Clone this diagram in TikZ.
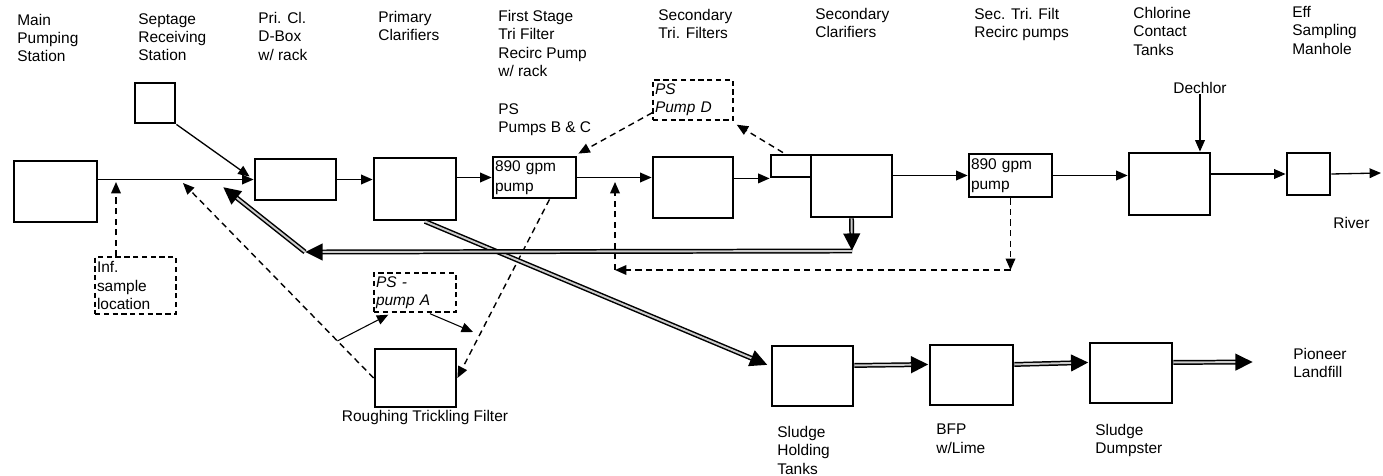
\documentclass[tikz,border=0pt]{standalone}
\usepackage{fontspec}
\setmainfont{Liberation Sans}
\usepackage{tikz}
\usetikzlibrary{arrows.meta, positioning, calc}
\newdimen\pu \pu=0.02cm
\newcommand{\lblfont}{\fontsize{8.8}{10.4}\selectfont}
\tikzset{
  every picture/.style={font=\lblfont},
  dims/.style args={#1x#2}{minimum width=#1\pu, minimum height=#2\pu},
  unit/.style={draw, line width=1.6pt, inner sep=0pt},
  textunit/.style={draw, line width=1.6pt, align=left, inner xsep=2\pu, inner ysep=0pt,
                   font=\fontsize{8.8}{11.3}\selectfont},
  probe/.style={draw, line width=0.8pt, dash pattern=on 3pt off 2pt, align=left,
                inner xsep=2\pu, inner ysep=0pt},
  tag/.style={anchor=north west, align=left, inner sep=0pt},
  flow/.style={line width=0.75pt, -{Triangle[length=6.5pt, width=5.5pt]}},
  recyc/.style={line width=0.8pt, dash pattern=on 3.5pt off 2.5pt, -{Triangle[length=6.5pt, width=5.5pt]}},
  sludge/.style={line width=2.8pt, -{Triangle[length=10pt, width=9pt]},
                 postaction={draw=gray!40, line width=1.1pt, -, shorten >=10pt}},
}

\begin{document}
\begin{tikzpicture}[x=0.02cm, y=-0.02cm]
  \useasboundingbox (0,0) rectangle (1383,476);

  % liquid train
  \node[unit, dims=83x61] (mps) at (55.5,191.5) {};
  \node[unit, dims=40x40] (sep) at (155,103) {};
  \node[unit, dims=81x41] (dbox) at (295.5,179.5) {};
  \node[unit, dims=82x62] (pricl) at (415,189) {};
  \node[textunit, text width=79\pu, minimum height=41\pu] (pmp1) at (534.5,177.5) {890 gpm\\pump};
  \node[unit, dims=80x61] (stf) at (693,187.5) {};
  \node[unit, dims=40x22] (scsm) at (791,166) {};
  \node[unit, dims=81x62] (sccl) at (851.5,186) {};
  \node[textunit, text width=79\pu, minimum height=43\pu] (pmp2) at (1010.5,175.5) {890 gpm\\pump};
  \node[unit, dims=81x62] (cct) at (1169.5,184) {};
  \node[unit, dims=43x42] (eff) at (1308.5,174) {};
  \node[unit, dims=81x58] (rtf) at (415.5,378) {};

  % pump stations and sampling
  \node[probe, text width=77\pu, minimum height=57\pu] (inf) at (135.5,285.5) {Inf.\\sample\\location};
  \node[probe, text width=78\pu, minimum height=39\pu, font=\lblfont\itshape] (psa) at (415,292.5) {PS -\\pump A};
  \node[probe, text width=76\pu, minimum height=40\pu, font=\lblfont\itshape] (psd) at (693,100) {PS\\Pump D};

  % solids train
  \node[unit, dims=81x60] (sht) at (812.5,376) {};
  \node[unit, dims=83x60] (bfp) at (971.5,375) {};
  \node[unit, dims=82x60] (dmp) at (1131,373) {};

  % labels
  \node[tag] (lmps) at (17,13.5) {Main\\Pumping\\Station};
  \node[tag] (lsep) at (138,13) {Septage\\Receiving\\Station};
  \node[tag] (ldbox) at (258,12) {Pri. Cl.\\D-Box\\w/ rack};
  \node[tag] (lpricl) at (378,11) {Primary\\Clarifiers};
  \node[tag] (lpmp1) at (498,10) {First Stage\\Tri Filter\\Recirc Pump\\w/ rack};
  \node[tag] (lpsbc) at (498,103) {PS\\Pumps B \& C};
  \node[tag] (lstf) at (658,9) {Secondary\\Tri. Filters};
  \node[tag] (lsccl) at (815,8) {Secondary\\Clarifiers};
  \node[tag] (lpmp2) at (974,8) {Sec. Tri. Filt\\Recirc pumps};
  \node[tag] (lcct) at (1133,7) {Chlorine\\Contact\\Tanks};
  \node[tag] (leff) at (1292,6) {Eff\\Sampling\\Manhole};
  \node[tag, anchor=north] (dechlor) at (1200,82) {Dechlor};
  \node[tag] (river) at (1333,217) {River};
  \node[tag, anchor=north] (lrtf) at (425,410) {Roughing Trickling Filter};
  \node[tag] (lsht) at (777,426) {Sludge\\Holding\\Tanks};
  \node[tag] (lbfp) at (936,424) {BFP\\w/Lime};
  \node[tag] (ldmp) at (1095,424) {Sludge\\Dumpster};
  \node[tag] (landfill) at (1293,348) {Pioneer\\Landfill};

  \coordinate (infin) at (116,182);
  \coordinate (rtfin) at (183,183);
  \coordinate (rasj) at (852,251);
  \coordinate (rasl) at (305,252);
  \coordinate (rasin) at (223,187);
  \coordinate (rcl) at (615,270);
  \coordinate (rcin) at (615,182);
  \coordinate (outfall) at (1381,173);
  \coordinate (psaout) at (473,332);
  \coordinate (cake) at (1253,362);

  % forward flow
  \draw[flow] (mps.east |- dbox) -- (dbox.west);
  \draw[flow] (sep.south east) -- ($(dbox.west)+(-4,-3)$);
  \draw[flow] (dbox.east) -- (pricl.west |- dbox);
  \draw[flow] (pricl.east |- pmp1) -- (pmp1.west);
  \draw[flow] (pmp1.east) -- (stf.west |- pmp1);
  \draw[flow] (stf.east |- scsm.south west) -- (scsm.south west);
  \draw[flow] (sccl.east |- pmp2) -- (pmp2.west);
  \draw[flow] (pmp2.east) -- (cct.west |- pmp2);
  \draw[flow] (cct.east |- eff) -- (eff.west);
  \draw[flow] (eff.east) -- (outfall);
  \draw[flow] (dechlor.south) -- (dechlor.south |- cct.north);

  % recirculation
  \draw[recyc] (infin |- inf.north) -- (infin);
  \draw[recyc] (rtf.west) -- (rtfin);
  \coordinate (tap) at ($(rtf.west)!0.19!(rtfin)$);
  \draw[flow, line width=0.6pt] (tap) -- ($(psa.south west)+(15,2)$);
  \draw[flow, line width=0.6pt] ($(psa.south)+(15,1)$) -- (psaout);
  \draw[recyc] ($(pmp1.south)+(15,0)$) -- (rtf.east);
  \draw[recyc] ($(scsm.north)+(-8,-1)$) -- ($(psd.south east)+(3,4)$);
  \draw[recyc] ($(psd.south west)+(0,-8)$) -- ($(pmp1.north east)+(1,-2)$);
  \draw[recyc] (pmp2.south) -- (pmp2.south |- rcl);
  \draw[recyc] (pmp2.south |- rcl) -- (rcl);
  \draw[recyc] (rcl) -- (rcin);

  % sludge
  \draw[sludge] ($(pricl.south)+(10,0)$) -- ($(sht.west)+(-3,-11)$);
  \draw[sludge] (sccl.south) -- (rasj);
  \draw[sludge] (rasj) -- (rasl);
  \draw[sludge] (rasl) -- (rasin);
  \draw[sludge] ([yshift=6pt]sht.east) -- ([yshift=6pt]bfp.west);
  \draw[sludge] ([yshift=6pt]bfp.east) -- ([yshift=6pt]dmp.west);
  \draw[sludge] ([yshift=6pt]dmp.east) -- (cake);
\end{tikzpicture}
\end{document}
